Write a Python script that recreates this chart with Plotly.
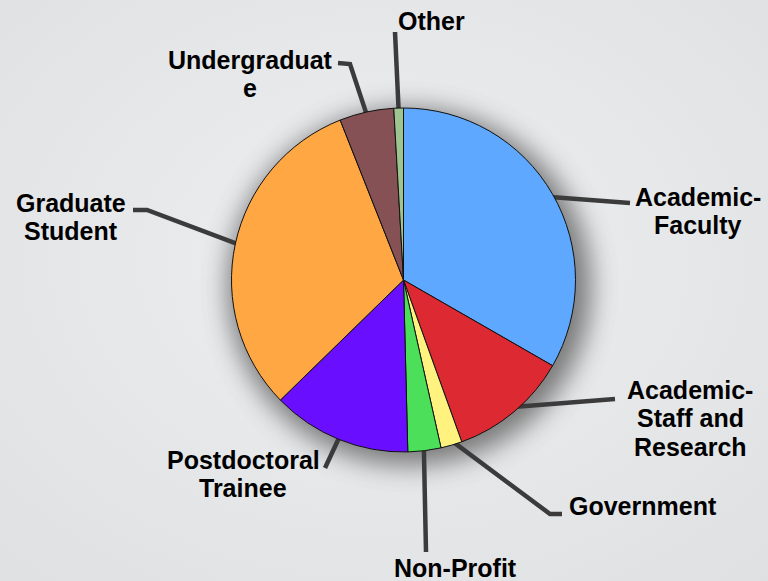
import math
import urllib.parse
import plotly.graph_objects as go

# ---- data ----
categories = ["Academic-Faculty", "Academic-Staff and Research", "Government", "Non-Profit",
              "Postdoctoral Trainee", "Graduate Student", "Undergraduate", "Other"]
display_labels = ["Academic-<br>Faculty", "Academic-<br>Staff and<br>Research", "Government",
                  "Non-Profit", "Postdoctoral<br>Trainee", "Graduate<br>Student",
                  "Undergraduat<br>e", "Other"]
values = [33.3, 11.2, 2.0, 3.1, 13.1, 31.3, 5.1, 0.9]
colors = ["#5EA8FF", "#DD2A32", "#FFF27E", "#4CE05A", "#6A0EFF", "#FFA843", "#865155", "#9EC48F"]

# ---- layout geometry (pixels) ----
W, H = 768, 581
CX, CY, R = 403.5, 280.0, 172.0
LINE_H = 28.5
label_pos = [(698, 211), (690, 418), (643, 506), (455, 568), (243, 474), (71, 217), (250, 74), (431, 21)]
leader_pts = [[(630, 203)], [(615, 399)], [(550, 514), (562, 514)], [(426, 552)],
              [(325, 468)], [(147, 210), (133, 210)], [(350, 64), (338, 63)], [(395, 32)]]


def px(x):
    return x / W


def py(y):
    return 1 - y / H


fig = go.Figure()
fig.add_trace(go.Pie(
    labels=categories, values=values, sort=False, direction="clockwise", rotation=0,
    marker=dict(colors=colors, line=dict(color="#111111", width=1)),
    textinfo="none", hoverinfo="label+percent", showlegend=False,
    domain=dict(x=[px(CX - R), px(CX + R)], y=[py(CY + R), py(CY - R)]),
))

# leader lines from slice mid-angles
total = sum(values)
cum = 0.0
shapes = []
for v, pts in zip(values, leader_pts):
    mid = (cum + v / 2) / total * 2 * math.pi
    cum += v
    sx = CX + (R - 6) * math.sin(mid)
    sy = CY - (R - 6) * math.cos(mid)
    path = f"M {px(sx)},{py(sy)}" + "".join(f" L {px(x)},{py(y)}" for x, y in pts)
    shapes.append(dict(type="path", path=path, xref="paper", yref="paper",
                       line=dict(color="#3b3b3b", width=4.5), layer="below"))

annotations = []
for text, (x, y) in zip(display_labels, label_pos):
    lines = text.split("<br>")
    n = len(lines)
    for i, line in enumerate(lines):
        ly = y + (i - (n - 1) / 2) * LINE_H
        annotations.append(dict(text=line, x=px(x), y=py(ly), xref="paper", yref="paper",
                                xanchor="center", yanchor="middle", showarrow=False,
                                font=dict(family="Liberation Sans, Arial", size=25, color="black",
                                          weight="bold")))

svg = f"""<svg xmlns='http://www.w3.org/2000/svg' width='{W}' height='{H}' viewBox='0 0 {W} {H}'>
<defs>
<radialGradient id='g' cx='50%' cy='45%' r='75%'>
<stop offset='0%' stop-color='#eeeff1'/><stop offset='100%' stop-color='#dfe0e2'/>
</radialGradient>
<filter id='b' x='-30%' y='-30%' width='160%' height='160%'><feGaussianBlur stdDeviation='13'/></filter>
</defs>
<rect width='{W}' height='{H}' fill='url(#g)'/>
<ellipse cx='{CX + 6}' cy='{CY + 7}' rx='{R + 10}' ry='{R + 7}' fill='#555555' opacity='0.75' filter='url(#b)'/>
</svg>"""
src = "data:image/svg+xml;charset=utf-8," + urllib.parse.quote(svg)

fig.update_layout(
    width=W, height=H, margin=dict(l=0, r=0, t=0, b=0),
    paper_bgcolor="#e6e7e9", plot_bgcolor="#e6e7e9",
    shapes=shapes, annotations=annotations,
    images=[dict(source=src, xref="paper", yref="paper", x=0, y=1, sizex=1, sizey=1,
                 xanchor="left", yanchor="top", sizing="stretch", layer="below")],
)

fig.write_html("out.html", config={"displayModeBar": False},
               post_script="document.body.style.margin='0';document.body.style.overflow='hidden';")
